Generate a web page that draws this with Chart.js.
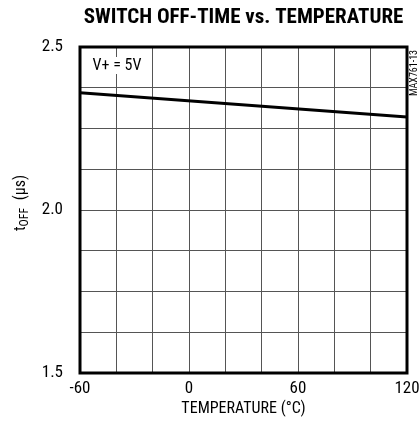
<!DOCTYPE html>
<html>
<head>
<meta charset="utf-8">
<script src="https://cdn.jsdelivr.net/npm/chart.js@4"></script>
<style>
  html, body { margin: 0; padding: 0; background: #fff; }
  #wrap { width: 420px; height: 432px; position: relative; }
</style>
</head>
<body>
<div id="wrap"><canvas id="myChart" width="420" height="432"></canvas></div>
<script>
// data
var temps = [-60, 120];
var toff = [2.36, 2.285];
var xLabels = [-60, 0, 60, 120];
var yLabels = [1.5, 2.0, 2.5];

var narrow = '"Liberation Sans Narrow", "Arial Narrow", "Roboto Condensed", sans-serif';

var points = [];
temps.forEach(function (t, i) {
  points.push({ x: t, y: toff[i] });
});

// frame, labels, titles
var extras = {
  id: 'extras',
  afterDatasetsDraw: function (chart) {
    var ctx = chart.ctx;
    var a = chart.chartArea;
    ctx.save();
    ctx.strokeStyle = '#000';
    ctx.lineWidth = 3;
    ctx.strokeRect(a.left, a.top, a.right - a.left, a.bottom - a.top);

    // condition box
    ctx.fillStyle = '#fff';
    ctx.fillRect(a.left + 9, a.top + 10, 56, 17);
    ctx.fillStyle = '#000';
    ctx.font = '16px ' + narrow;
    ctx.textAlign = 'center';
    ctx.textBaseline = 'middle';
    ctx.fillText('V+ = 5V', a.left + 37, a.top + 19);
    ctx.restore();
  },
  afterDraw: function (chart) {
    var ctx = chart.ctx;
    var a = chart.chartArea;
    ctx.save();
    ctx.fillStyle = '#000';
    ctx.textAlign = 'center';
    ctx.textBaseline = 'middle';
    ctx.font = 'bold 21px ' + narrow;
    ctx.fillText('SWITCH OFF-TIME vs. TEMPERATURE', (a.left + a.right) / 2, 18);

    ctx.font = '16px ' + narrow;
    ctx.fillText('TEMPERATURE (\u00B0C)', (a.left + a.right) / 2, 409);

    // y title with subscript
    ctx.translate(19, 203);
    ctx.rotate(-Math.PI / 2);
    ctx.textAlign = 'left';
    ctx.textBaseline = 'alphabetic';
    ctx.font = '16px ' + narrow;
    var w1 = ctx.measureText('t').width;
    ctx.font = '12px ' + narrow;
    var w2 = ctx.measureText('OFF').width;
    ctx.font = '16px ' + narrow;
    var w3 = ctx.measureText('  (\u00B5s)').width;
    var sx = -(w1 + w2 + w3) / 2;
    ctx.fillText('t', sx, 6);
    ctx.font = '12px ' + narrow;
    ctx.fillText('OFF', sx + w1, 9);
    ctx.font = '16px ' + narrow;
    ctx.fillText('  (\u00B5s)', sx + w1 + w2, 6);
    ctx.restore();

    // figure code
    ctx.save();
    ctx.translate(414, a.top + 26);
    ctx.rotate(-Math.PI / 2);
    ctx.font = '10px ' + narrow;
    ctx.textAlign = 'center';
    ctx.textBaseline = 'middle';
    ctx.fillStyle = '#000';
    ctx.fillText('MAX761-13', 0, 0);
    ctx.restore();
  }
};

const data = {
  datasets: [{
    label: 'tOFF',
    data: points,
    borderColor: '#000',
    borderWidth: 3,
    pointRadius: 0,
    fill: false,
    tension: 0
  }]
};

const config = {
  type: 'line',
  data: data,
  options: {
    responsive: false,
    animation: false,
    layout: { padding: { top: 47, right: 13, left: 0, bottom: 0 } },
    plugins: {
      legend: { display: false },
      tooltip: { enabled: false }
    },
    scales: {
      x: {
        type: 'linear',
        min: -60,
        max: 120,
        afterBuildTicks: function (s) {
          var t = [];
          for (var v = -60; v <= 120; v += 20) t.push({ value: v });
          s.ticks = t;
        },
        afterFit: function (s) {
          s.height = 59;
          s.paddingLeft = 0;
          s.paddingRight = 0;
        },
        grid: { color: '#555', lineWidth: 1, drawTicks: false },
        border: { display: false },
        ticks: {
          autoSkip: false,
          maxRotation: 0,
          padding: 6,
          color: '#000',
          font: { family: narrow, size: 17 },
          callback: function (v) { return xLabels.indexOf(v) >= 0 ? String(v) : ''; }
        }
      },
      y: {
        min: 1.5,
        max: 2.5,
        afterBuildTicks: function (s) {
          var t = [];
          for (var i = 0; i <= 8; i++) t.push({ value: 1.5 + i * 0.125 });
          s.ticks = t;
        },
        afterFit: function (s) {
          s.width = 80;
          s.paddingTop = 0;
          s.paddingBottom = 0;
        },
        grid: { color: '#555', lineWidth: 1, drawTicks: false },
        border: { display: false },
        ticks: {
          autoSkip: false,
          padding: 17,
          color: '#000',
          font: { family: narrow, size: 17 },
          callback: function (v) {
            for (var i = 0; i < yLabels.length; i++) {
              if (Math.abs(v - yLabels[i]) < 1e-6) return yLabels[i].toFixed(1);
            }
            return '';
          }
        }
      }
    }
  },
  plugins: [extras]
};

const myChart = new Chart(document.getElementById('myChart'), config);
</script>
</body>
</html>
